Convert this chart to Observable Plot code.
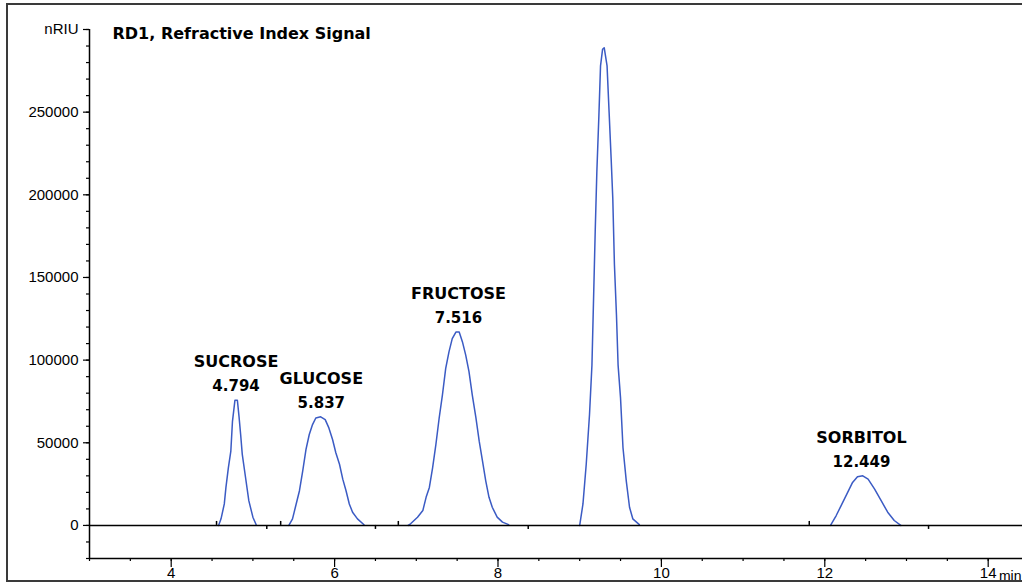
<!DOCTYPE html>
<html>
<head>
<meta charset="utf-8">
<script src="https://cdn.jsdelivr.net/npm/d3@7"></script>
<script src="https://cdn.jsdelivr.net/npm/@observablehq/plot@0.6"></script>
<style>
  html, body { margin: 0; padding: 0; background: #fff; overflow: hidden; width: 1022px; height: 583px; }
  #wrap { position: relative; width: 1022px; height: 583px; }
  #border { position: absolute; left: 6px; top: 3px; width: 1100px; height: 575px; border: 2px solid #3a3a3a; pointer-events: none; }
  #wrap svg { display: block; }
</style>
</head>
<body>
<div id="wrap"><div id="border"></div></div>
<script>
// ---- Peak annotations ----
const peakNames = ["SUCROSE", "GLUCOSE", "FRUCTOSE", "SORBITOL"];
const peakRT = [4.794, 5.837, 7.516, 12.449];
const peakRTLabels = ["4.794", "5.837", "7.516", "12.449"];
const peakApex = [75700, 65700, 117000, 30000];

// ---- Signal traces (time in min, signal in nRIU) ----
const sucroseTime = [4.58, 4.61, 4.65, 4.67, 4.70, 4.73, 4.75, 4.78, 4.81, 4.83, 4.85, 4.87, 4.91, 4.95, 5.00, 5.04];
const sucroseSignal = [0, 4000, 13000, 23000, 35000, 45000, 63000, 75700, 75700, 66000, 55000, 43000, 29000, 15000, 5000, 400];

const glucoseTime = [5.44, 5.485, 5.52, 5.57, 5.61, 5.65, 5.69, 5.73, 5.77, 5.83, 5.885, 5.93, 5.975, 6.015, 6.06, 6.10, 6.14, 6.18, 6.22, 6.28, 6.36];
const glucoseSignal = [0, 4000, 11000, 21000, 33000, 46000, 55000, 61000, 65000, 65700, 64000, 59000, 52000, 44000, 37000, 28000, 21000, 13000, 8000, 4000, 400];

const fructoseTime = [6.90, 6.93, 7.015, 7.08, 7.12, 7.16, 7.20, 7.24, 7.28, 7.32, 7.36, 7.40, 7.44, 7.485, 7.525, 7.565, 7.605, 7.645, 7.685, 7.73, 7.77, 7.81, 7.85, 7.89, 7.93, 7.99, 8.055, 8.13];
const fructoseSignal = [0, 1000, 5000, 9000, 17000, 23000, 35000, 49000, 65000, 79000, 95000, 105000, 113000, 117000, 117000, 111000, 103000, 93000, 79000, 65000, 51000, 39000, 27000, 17000, 11000, 5000, 2000, 500];

const unknownTime = [9.00, 9.04, 9.08, 9.12, 9.15, 9.17, 9.19, 9.21, 9.235, 9.255, 9.28, 9.30, 9.335, 9.36, 9.385, 9.405, 9.425, 9.45, 9.47, 9.50, 9.53, 9.57, 9.61, 9.65, 9.73];
const unknownSignal = [0, 13000, 37000, 67000, 97000, 137500, 178000, 214000, 248000, 278000, 288000, 289000, 278000, 250000, 222000, 198000, 158000, 127500, 97000, 77000, 47000, 27000, 11000, 4000, 500];

const sorbitolTime = [12.07, 12.14, 12.20, 12.28, 12.34, 12.40, 12.465, 12.53, 12.61, 12.69, 12.77, 12.85, 12.93];
const sorbitolSignal = [0, 6000, 12000, 20000, 26000, 29500, 30000, 28000, 22000, 15000, 8000, 3000, 0];

// integration start / end markers on the baseline
const integStarts = [4.555, 5.34, 6.78, 11.81];
const integEnds = [5.17, 6.50, 8.37, 13.27];

// ---- Ticks ----
const xTickValues = [4, 6, 8, 10, 12, 14];
const xTickLabels = ["4", "6", "8", "10", "12", "14"];
const yTickValues = [0, 50000, 100000, 150000, 200000, 250000, 300000];
const yTickLabels = ["0", "50000", "100000", "150000", "200000", "250000", "nRIU"];
const xMinorTicks = d3.range(3, 14.5, 0.5);
const yMinorTicks = d3.range(-20000, 300001, 10000);

const title = "RD1, Refractive Index Signal";
const xUnit = "min";

// ---- Build table ----
const traces = [
  ["sucrose", sucroseTime, sucroseSignal],
  ["glucose", glucoseTime, glucoseSignal],
  ["fructose", fructoseTime, fructoseSignal],
  ["unknown", unknownTime, unknownSignal],
  ["sorbitol", sorbitolTime, sorbitolSignal]
];
const trace = traces.flatMap(([peak, ts, vs]) => ts.map((t, i) => ({peak, t, v: vs[i]})));
const peaks = peakNames.map((name, i) => ({name, rt: peakRT[i], label: peakRTLabels[i], apex: peakApex[i]}));

const blue = "#3b5bc4";
const tickFont = "'Liberation Sans', Arial, sans-serif";
const boldFont = "'DejaVu Sans', Verdana, sans-serif";

const chart = Plot.plot({
  width: 1022,
  height: 583,
  marginLeft: 89,
  marginRight: 0,
  marginTop: 29,
  marginBottom: 25,
  style: {fontFamily: tickFont, fontSize: "15px", color: "#000", background: "transparent"},
  x: {domain: [3, 14.42]},
  y: {domain: [-20000, 300000]},
  marks: [
    Plot.line(trace, {x: "t", y: "v", z: "peak", stroke: blue, strokeWidth: 1.5}),
    Plot.ruleY([0], {stroke: "#000", strokeWidth: 1.5}),
    Plot.ruleX(integStarts, {x: d => d, y1: 0, y2: 0, insetTop: -4, stroke: "#000", strokeWidth: 1.5}),
    Plot.ruleX(integEnds, {x: d => d, y1: 0, y2: 0, insetBottom: -4, stroke: "#000", strokeWidth: 1.5}),
    // axis lines
    Plot.ruleX([3], {stroke: "#000", strokeWidth: 1.5}),
    Plot.ruleY([-20000], {stroke: "#000", strokeWidth: 1.5}),
    // y axis
    Plot.axisY(yMinorTicks, {tickSize: 3, tickFormat: () => "", label: null, strokeWidth: 1.2}),
    Plot.axisY(yTickValues, {tickSize: 6, tickPadding: 5, label: null, strokeWidth: 1.2, fontSize: 15,
      fontFamily: tickFont, fill: "#000",
      tickFormat: d => yTickLabels[yTickValues.indexOf(d)]}),
    // x axis
    Plot.axisX(xMinorTicks, {tickSize: 3, tickFormat: () => "", label: null, strokeWidth: 1.2}),
    Plot.axisX(xTickValues, {tickSize: 9, tickPadding: 0, strokeWidth: 1.2, fontSize: 15,
      fontFamily: tickFont, fill: "#000", label: null,
      tickFormat: d => xTickLabels[xTickValues.indexOf(d)]}),
    // x unit label at the right edge
    Plot.text([xUnit], {frameAnchor: "bottom-right", textAnchor: "end", lineAnchor: "bottom", dx: -1, dy: 22,
      fontFamily: tickFont, fontSize: 14, fill: "#000"}),
    // title
    Plot.text([title], {frameAnchor: "top-left", textAnchor: "start", lineAnchor: "middle", dx: 23, dy: 4,
      fontFamily: boldFont, fontWeight: "bold", fontSize: 16, fill: "#000"}),
    // peak labels
    Plot.text(peaks, {x: "rt", y: "apex", text: "name", dy: -38, lineAnchor: "middle",
      fontFamily: boldFont, fontWeight: "bold", fontSize: 16, fill: "#000"}),
    Plot.text(peaks, {x: "rt", y: "apex", text: "label", dy: -14, lineAnchor: "middle",
      fontFamily: boldFont, fontWeight: "bold", fontSize: 15, fill: "#000"})
  ]
});
document.getElementById("wrap").prepend(chart);
</script>
</body>
</html>
